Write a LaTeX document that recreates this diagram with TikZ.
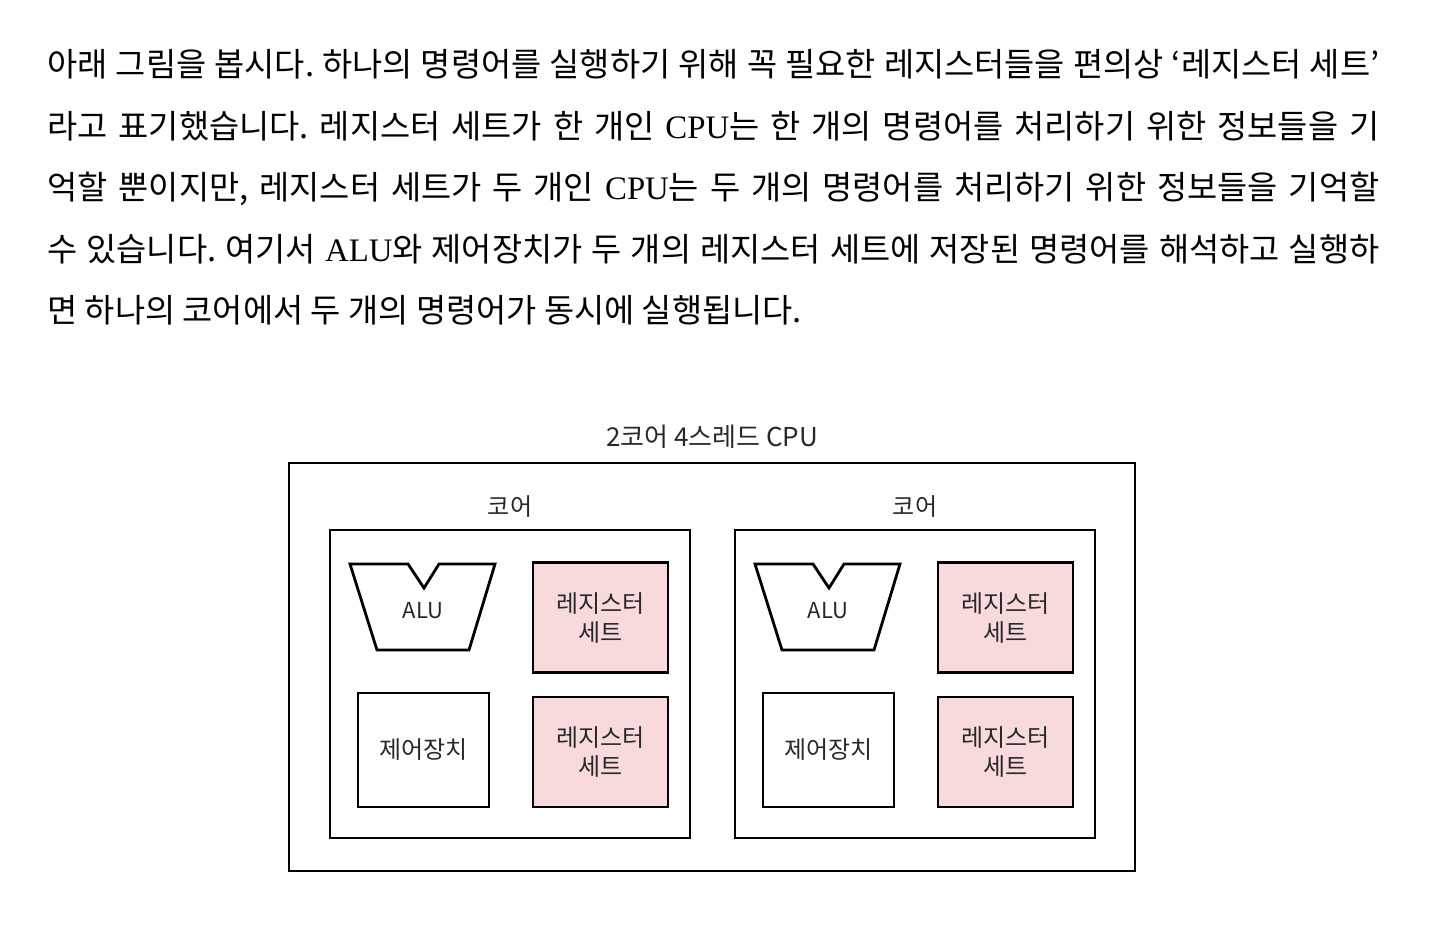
\documentclass[tikz,border=0pt]{standalone}
\usepackage{fontspec}
\setmainfont{Noto Sans CJK KR}
\newfontfamily\latinserif{Liberation Serif}
\frenchspacing

\definecolor{regpink}{RGB}{248,218,220}
\definecolor{inkgray}{RGB}{40,40,40}

\newcommand{\bodyline}[1]{\makebox[666pt][s]{#1}}

\tikzset{
  bodytext/.style={anchor=base west, inner sep=0pt, font=\fontsize{16.4}{19}\selectfont, text=black},
  unitbox/.style={draw=black, line width=1.4pt, inner sep=0pt, align=center, text=inkgray, font=\fontsize{12}{14.5}\selectfont},
  regset/.style={unitbox, fill=regpink, minimum width=67.5pt, minimum height=55pt},
  ctrlunit/.style={unitbox, minimum width=65.5pt, minimum height=57pt},
  corebox/.style={unitbox, minimum width=180pt, minimum height=154pt},
  label/.style={inner sep=0pt, text=inkgray, font=\fontsize{12}{14}\selectfont}
}

\begin{document}
\begin{tikzpicture}[x=0.5pt, y=-0.5pt]
\useasboundingbox (0,0) rectangle (1430,944); % page

% paragraph
\node[bodytext] (line1) at (47,76) {\bodyline{아래 그림을 봅시다. 하나의 명령어를 실행하기 위해 꼭 필요한 레지스터들을 편의상 ‘레지스터 세트’}};
\node[bodytext] (line2) at (47,138) {\bodyline{라고 표기했습니다. 레지스터 세트가 한 개인 {\latinserif CPU}는 한 개의 명령어를 처리하기 위한 정보들을 기}};
\node[bodytext] (line3) at (47,199) {\bodyline{억할 뿐이지만, 레지스터 세트가 두 개인 {\latinserif CPU}는 두 개의 명령어를 처리하기 위한 정보들을 기억할}};
\node[bodytext] (line4) at (47,261) {\bodyline{수 있습니다. 여기서 {\latinserif ALU}와 제어장치가 두 개의 레지스터 세트에 저장된 명령어를 해석하고 실행하}};
\node[bodytext] (line5) at (47,322) {면 하나의 코어에서 두 개의 명령어가 동시에 실행됩니다.};

% cpu
\node[label, font=\fontsize{13}{15}\selectfont] (cputitle) at (712,437) {2코어 4스레드 CPU};
\node[unitbox, minimum width=423pt, minimum height=204pt] (cpu) at (712,667) {};

% left core
\node[label] (coretitle1) at (510,507) {코어};
\node[corebox] (core1) at (510,684) {};
\draw[line width=1.4pt] (350,564) -- (408,564) -- (424,588) -- (439,564) -- (495,564) -- (469,650) -- (377,650) -- cycle; % alu shape
\node[label, font=\fontsize{11}{14}\selectfont] (alu1) at (423,611) {ALU};
\node[regset] (regA1) at (600.5,617.5) {레지스터\\세트};
\node[ctrlunit] (ctrl1) at (423.5,750) {제어장치};
\node[regset] (regB1) at (600.5,752) {레지스터\\세트};

% right core
\node[label] (coretitle2) at (915,507) {코어};
\node[corebox] (core2) at (915,684) {};
\draw[line width=1.4pt] (755,564) -- (813,564) -- (829,588) -- (844,564) -- (900,564) -- (874,650) -- (782,650) -- cycle; % alu shape
\node[label, font=\fontsize{11}{14}\selectfont] (alu2) at (828,611) {ALU};
\node[regset] (regA2) at (1005.5,617.5) {레지스터\\세트};
\node[ctrlunit] (ctrl2) at (828.5,750) {제어장치};
\node[regset] (regB2) at (1005.5,752) {레지스터\\세트};
\end{tikzpicture}
\end{document}
